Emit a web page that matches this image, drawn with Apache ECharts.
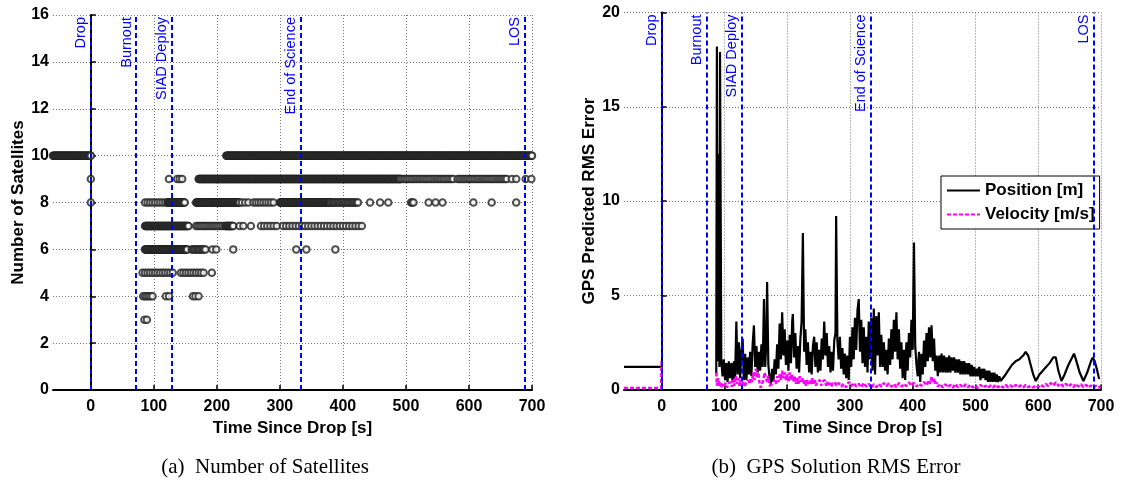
<!DOCTYPE html>
<html>
<head>
<meta charset="utf-8">
<script src="https://cdn.jsdelivr.net/npm/echarts@6/dist/echarts.min.js"></script>
<style>
html,body{margin:0;padding:0;background:#fff;}
#chart{width:1124px;height:482px;}
</style>
</head>
<body>
<div id="chart"></div>
<script>
// ---------- DATA ----------
const xTicks = [0, 100, 200, 300, 400, 500, 600, 700];
const events = ['Drop', 'Burnout', 'SIAD Deploy', 'End of Science', 'LOS'];
const eventTimes = [0, 72, 128, 333, 688];

// Number of satellites: runs [tStart, tEnd, sampleSpacing] and single samples (time, s)
const runs10 = [[-60, 0, 1], [215, 700, 1]];
const pts10 = [];
const runs9 = [[171, 491, 1], [491, 576, 3], [582, 660, 3]];
const pts9 = [0, 124, 137, 141, 145, 668, 675, 690, 699];
const runs8 = [[86, 122, 4], [122, 149, 1], [167, 236, 1], [240, 254, 5], [258, 290, 4], [300, 380, 1], [380, 424, 2]];
const pts8 = [0, 443, 459, 472, 508, 510, 512, 536, 547, 558, 607, 636, 675];
const runs7 = [[86, 155, 1], [167, 212, 3], [214, 226, 1], [270, 297, 5], [305, 430, 5]];
const pts7 = [236, 242, 254];
const runs6 = [[86, 153, 1], [160, 183, 2]];
const pts6 = [193, 199, 226, 326, 342, 388];
const runs5 = [[82, 130, 4], [143, 180, 4]];
const pts5 = [192];
const runs4 = [[83, 98, 3]];
const pts4 = [119, 124, 162, 166, 171];
const runs3 = [];
const pts3 = [85, 89];

// GPS solution RMS error [t, value]
const positionPre = [[-60, 1.2], [0, 1.2]];
const positionPost = [
[87,0.8],[88,18.2],[89,1.5],[91,12.5],[92,1.2],[93,17.9],[94,18.0],[95,1.6],[97,0.7],
[99,1.6],[101,0.5],[103,1.4],[105,0.4],[107,1.5],[109,0.6],[111,1.4],[113,0.4],[115,1.5],[117,0.6],
[119,3.6],[121,0.8],[123,2.5],[125,0.6],[127,2.0],[129,2.7],[131,0.5],[133,1.9],[135,0.5],[137,1.7],
[139,0.8],[141,2.0],[143,0.7],[145,2.4],[147,3.4],[149,1.2],[151,2.3],[153,0.9],[155,2.0],[157,1.0],
[159,2.4],[161,1.2],[163,4.8],[165,1.2],[167,2.7],[168,5.7],[170,1.3],[172,0.6],[174,0.3],[176,1.1],
[178,0.4],[180,1.6],[182,0.8],[184,2.4],[186,1.1],[188,3.5],[190,1.6],[192,4.1],[194,1.8],[196,3.2],
[198,1.3],[200,2.6],[202,1.0],[204,2.9],[206,1.4],[208,3.6],[209,4.0],[211,1.7],[213,3.0],[215,1.1],
[217,2.3],[219,0.9],[221,2.7],[223,3.6],[225,8.3],[227,2.0],[229,3.2],[231,1.3],[233,2.5],[235,0.9],
[237,2.0],[239,0.8],[241,2.3],[243,2.8],[245,1.2],[247,2.5],[249,0.9],[251,2.1],[253,1.0],[255,2.7],
[257,1.6],[259,3.6],[261,1.8],[263,3.0],[265,1.2],[267,2.3],[269,0.9],[271,2.0],[273,1.0],[275,2.6],
[277,3.0],[278,9.2],[280,2.6],[282,1.6],[284,2.8],[286,1.1],[288,2.2],[290,0.8],[292,1.9],[294,0.6],
[296,1.8],[298,0.5],[300,2.8],[302,1.2],[304,3.3],[306,1.6],[308,3.8],[310,2.1],[312,4.2],[314,4.8],
[316,2.0],[318,3.7],[320,1.4],[322,3.3],[324,1.2],[326,2.8],[328,0.9],[330,3.6],[332,1.6],[334,3.8],
[336,1.0],[338,4.3],[340,0.8],[342,3.9],[344,1.8],[346,4.1],[348,1.2],[350,2.9],[352,1.2],[354,2.5],
[356,1.0],[358,2.1],[360,0.8],[362,2.7],[364,1.3],[366,3.2],[368,1.6],[370,3.7],[372,2.0],[374,4.1],
[376,1.6],[378,3.2],[380,1.1],[382,2.5],[384,0.6],[386,2.1],[388,0.5],[390,2.5],[392,1.0],[394,3.0],
[396,1.7],[398,3.7],[400,2.1],[402,7.8],[404,2.3],[406,1.3],[408,0.7],[410,2.0],[412,0.4],[414,1.9],
[416,0.8],[418,2.6],[420,1.2],[422,3.0],[424,1.5],[426,3.3],[428,1.7],[430,3.4],[432,1.5],[434,2.7],
[436,1.0],[438,1.8],[440,0.7],[442,1.8],[444,0.9],[446,1.9],[448,0.9],[450,1.8],[452,0.9],[454,1.7],
[456,0.9],[458,1.8],[460,0.9],[462,1.7],[464,1.0],[466,1.7],[468,0.9],[470,1.6],[472,0.9],[474,1.6],
[476,0.8],[478,1.5],[480,0.8],[482,1.5],[484,0.8],[486,1.4],[488,0.8],[490,1.4],[492,0.7],[494,1.3],
[496,0.7],[498,1.2],[500,0.7],[502,1.1],[504,0.7],[506,1.2],[508,0.5],[510,1.1],[512,0.6],[514,1.1],
[516,0.5],[518,1.0],[520,0.4],[522,1.0],[524,0.4],[526,0.9],[528,0.4],[530,0.9],[532,0.4],[534,0.8],
[536,0.4],[538,0.7],[540,0.45],[542,0.5],
[546,0.7],[552,1.0],[558,1.3],[564,1.5],[570,1.6],[576,1.8],[580,2.0],[584,1.8],[588,1.3],[592,0.8],
[596,0.45],[602,0.8],[610,1.1],[618,1.4],[624,1.7],[628,1.7],[632,1.0],[637,0.45],[642,0.8],[648,1.3],
[654,1.7],[657,1.9],[660,1.6],[666,0.9],[672,0.45],[678,0.9],[684,1.5],[687,1.7],[690,1.5],[694,1.0],
[697,0.55]
];
const velocityPre = [[-60, 0.08], [-1, 0.08], [0, 1.6]];
const velocityPost = [
[87,0.9],[88,0.2],[90,0.6],[92,0.15],[94,0.4],[96,0.1],[98,0.3],[100,0.15],[102,0.35],[104,0.1],
[106,0.3],[108,0.2],[110,0.4],[112,0.15],[114,0.5],[116,0.2],[118,0.7],[120,0.3],[122,0.6],[124,0.2],
[126,0.5],[128,0.2],[130,0.4],[132,0.15],[134,0.3],[136,0.2],[138,0.5],[140,0.3],[142,0.6],[144,0.4],
[146,0.9],[148,0.5],[150,1.1],[152,0.6],[154,0.9],[156,0.3],[158,0.1],[160,0.2],[162,0.5],[164,0.9],
[166,1.0],[168,0.4],[170,0.7],[172,0.2],[174,0.1],[176,0.3],[178,0.2],[180,0.5],[182,0.3],[184,0.7],
[186,0.4],[188,0.8],[190,0.5],[192,1.0],[194,0.6],[196,0.9],[198,0.5],[200,0.8],[202,0.4],[204,0.9],
[206,0.5],[208,0.8],[210,0.4],[212,0.7],[214,0.3],[216,0.6],[218,0.3],[220,0.7],[222,0.4],[224,0.6],
[226,0.3],[228,0.5],[230,0.2],[232,0.5],[234,0.3],[236,0.5],[238,0.3],[240,0.6],[242,0.3],[244,0.5],
[246,0.2],[248,0.4],[250,0.3],[252,0.5],[254,0.2],[256,0.4],[258,0.3],[260,0.5],[262,0.2],[264,0.4],
[266,0.2],[268,0.35],[270,0.15],[272,0.3],[274,0.2],[276,0.4],[278,0.2],[280,0.3],
[282,0.35],[286,0.15],[290,0.3],[294,0.12],[298,0.4],[302,0.18],[306,0.35],[310,0.15],[314,0.3],[318,0.12],
[322,0.35],[326,0.15],[330,0.3],[334,0.1],[338,0.28],[342,0.12],[346,0.3],[350,0.15],[354,0.35],[358,0.18],
[362,0.32],[366,0.15],[370,0.3],[374,0.12],[378,0.35],[382,0.15],[386,0.3],[390,0.18],[394,0.38],[398,0.2],
[402,0.35],[406,0.15],[410,0.3],[414,0.2],[418,0.4],[422,0.22],[426,0.5],[428,0.3],[430,0.7],[432,0.35],
[434,0.6],[436,0.25],[438,0.4],[440,0.15],[444,0.3],[448,0.1],[452,0.28],[456,0.12],[460,0.25],[464,0.1],
[468,0.3],[472,0.12],[476,0.25],[480,0.1],[484,0.28],[488,0.12],[492,0.25],[496,0.1],[500,0.22],[504,0.08],
[508,0.25],[512,0.1],[516,0.2],[520,0.08],[524,0.22],[528,0.1],[532,0.25],[536,0.12],[540,0.22],[544,0.1],
[548,0.25],[552,0.12],[556,0.22],[560,0.1],[564,0.25],[568,0.12],[572,0.22],[576,0.1],[580,0.25],[584,0.12],
[588,0.2],[592,0.1],[596,0.22],[600,0.12],[604,0.25],[608,0.15],[612,0.3],[616,0.18],[620,0.35],[624,0.2],
[628,0.38],[632,0.2],[636,0.32],[640,0.15],[644,0.3],[648,0.15],[652,0.28],[656,0.12],[660,0.3],[664,0.15],
[668,0.28],[672,0.12],[676,0.25],[680,0.1],[684,0.22],[688,0.1],[692,0.2],[696,0.1],[699,0.15]
];

// ---------- BUILD ----------
function levelPoints(level, runs, pts) {
  const out = [];
  runs.forEach(r => { for (let t = r[0]; t <= r[1]; t += r[2]) out.push([t, level]); });
  pts.forEach(t => out.push([t, level]));
  return out;
}
const satData = [].concat(
  levelPoints(10, runs10, pts10), levelPoints(9, runs9, pts9), levelPoints(8, runs8, pts8),
  levelPoints(7, runs7, pts7), levelPoints(6, runs6, pts6), levelPoints(5, runs5, pts5),
  levelPoints(4, runs4, pts4), levelPoints(3, runs3, pts3)
);
const positionData = positionPre.concat([[1, '-']], positionPost);
const velocityData = velocityPre.concat([[1, '-']], velocityPost);

const FONT = 'Liberation Sans, Arial, Helvetica, sans-serif';
const eventMarks = events.map((n, i) => ({ name: n, xAxis: eventTimes[i] }));

function xAxisCfg(gi) {
  return {
    type: 'value', gridIndex: gi, min: -60, max: 700,
    name: 'Time Since Drop [s]', nameLocation: 'middle', nameGap: 29,
    nameTextStyle: { fontFamily: FONT, fontWeight: 'bold', fontSize: 17, color: '#000' },
    axisLine: { show: true, onZero: false, lineStyle: { color: '#000', width: 2 } },
    axisTick: { show: true, inside: true, length: 5, customValues: xTicks, lineStyle: { color: '#000', width: 1.5 } },
    axisLabel: { customValues: xTicks, fontFamily: FONT, fontWeight: 'bold', fontSize: 16, color: '#000', margin: 9 },
    splitLine: { show: true, lineStyle: { type: [1, 2], color: '#777', width: 1 } }
  };
}
function yAxisCfg(gi, max, interval, name, gap) {
  return {
    type: 'value', gridIndex: gi, min: 0, max: max, interval: interval,
    name: name, nameLocation: 'middle', nameGap: gap,
    nameTextStyle: { fontFamily: FONT, fontWeight: 'bold', fontSize: 17, color: '#000' },
    axisLine: { show: true, lineStyle: { color: '#000', width: 2 } },
    axisTick: { show: true, inside: true, length: 5, lineStyle: { color: '#000', width: 1.5 } },
    axisLabel: { fontFamily: FONT, fontWeight: 'bold', fontSize: 16, color: '#000', margin: 4 },
    splitLine: { show: true, lineStyle: { type: [1, 2], color: '#777', width: 1 } }
  };
}
function eventSeries(gi) {
  return {
    type: 'line', xAxisIndex: gi, yAxisIndex: gi, data: [], silent: true, z: 10,
    markLine: {
      silent: true, symbol: 'none', animation: false,
      lineStyle: { color: '#0000ff', type: [5, 3], width: 2 },
      label: { show: true, position: 'insideEndTop', formatter: '{b}', color: '#0000ff',
               fontFamily: FONT, fontSize: 14.5, distance: 2 },
      data: eventMarks
    }
  };
}

const solidIcon = 'path://M0,0h33v2h-33z';
const dashIcon = 'path://M0,0h4v2h-4z M6,0h4v2h-4z M12,0h4v2h-4z M18,0h4v2h-4z M24,0h4v2h-4z M30,0h3v2h-3z';

const chart = echarts.init(document.getElementById('chart'), null, { renderer: 'canvas' });
chart.setOption({
  animation: false,
  backgroundColor: '#fff',
  grid: [
    { left: 53, top: 15, width: 479, height: 375 },
    { left: 624, top: 12.5, width: 477, height: 377 }
  ],
  xAxis: [xAxisCfg(0), xAxisCfg(1)],
  yAxis: [yAxisCfg(0, 16, 2, 'Number of Satellites', 25), yAxisCfg(1, 20, 5, 'GPS Predicted RMS Error', 26)],
  legend: {
    data: [{ name: 'Position [m]', icon: solidIcon }, { name: 'Velocity [m/s]', icon: dashIcon }],
    orient: 'vertical', left: 941, top: 176,
    itemWidth: 33, itemHeight: 2, itemGap: 7,
    padding: [6, 5, 6, 6],
    borderColor: '#000', borderWidth: 1, borderRadius: 0, backgroundColor: '#fff',
    textStyle: { fontFamily: FONT, fontWeight: 'bold', fontSize: 17, color: '#000' }
  },
  graphic: [
    { type: 'text', x: 265, y: 467, style: { text: '(a)  Number of Satellites', fill: '#000',
      font: '21px "Liberation Serif", "Times New Roman", serif', textAlign: 'center', textVerticalAlign: 'middle' } },
    { type: 'text', x: 836, y: 467, style: { text: '(b)  GPS Solution RMS Error', fill: '#000',
      font: '21px "Liberation Serif", "Times New Roman", serif', textAlign: 'center', textVerticalAlign: 'middle' } }
  ],
  series: [
    {
      name: 'Satellites', type: 'scatter', xAxisIndex: 0, yAxisIndex: 0,
      symbol: 'emptyCircle', symbolSize: 6.5, data: satData,
      itemStyle: { color: '#222', borderWidth: 0.9 }
    },
    {
      name: 'Position [m]', type: 'line', xAxisIndex: 1, yAxisIndex: 1, data: positionData,
      showSymbol: false, symbol: 'none', connectNulls: false,
      lineStyle: { color: '#000', width: 2.2 }, itemStyle: { color: '#000' }
    },
    {
      name: 'Velocity [m/s]', type: 'line', xAxisIndex: 1, yAxisIndex: 1, data: velocityData,
      showSymbol: false, symbol: 'none', connectNulls: false,
      lineStyle: { color: '#ff00ff', width: 2.5, type: [4, 2] }, itemStyle: { color: '#ff00ff' }
    },
    eventSeries(0),
    eventSeries(1)
  ]
});
</script>
</body>
</html>
